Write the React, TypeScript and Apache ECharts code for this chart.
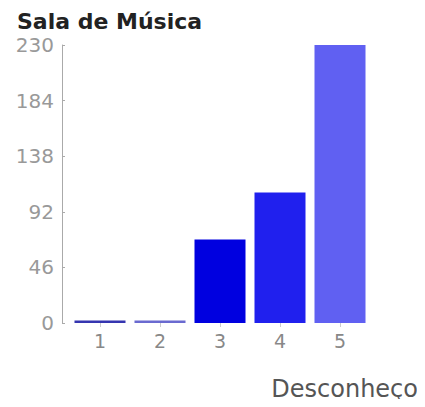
import React, { useEffect, useRef } from "react";
import * as echarts from "echarts";

const categories = ["1", "2", "3", "4", "5"];
const values = [2, 2, 69, 108, 230];
const barColors = ["#3535b0", "#6a6ad0", "#0000e0", "#2020ee", "#6060f2"];
const yTicks = [0, 46, 92, 138, 184, 230];

export default function App() {
  const ref = useRef<HTMLDivElement>(null);
  useEffect(() => {
    const chart = echarts.init(ref.current!, null, { renderer: "svg" });
    chart.setOption({
      animation: false,
      backgroundColor: "#ffffff",
      title: {
        text: "Sala de Música",
        left: 12,
        top: 5,
        textStyle: { fontFamily: "DejaVu Sans", fontWeight: "bold", fontSize: 22, color: "#222" },
      },
      graphic: [
        {
          type: "text",
          right: 7,
          top: 377,
          style: { text: "Desconheço", font: "24px 'DejaVu Sans'", fill: "#555" },
        },
      ],
      grid: { left: 70, right: 55, top: 45, bottom: 84 },
      xAxis: {
        type: "category",
        data: categories,
        axisLine: { show: false },
        axisTick: { show: true, alignWithLabel: true, length: 4, lineStyle: { color: "#ccc" } },
        axisLabel: { color: "#888", fontSize: 19, fontFamily: "DejaVu Sans", margin: 8 },
      },
      yAxis: {
        type: "value",
        min: 0,
        max: 230,
        interval: 46,
        offset: 8,
        axisLine: { show: true, lineStyle: { color: "#aaa" } },
        axisTick: { show: true, inside: true, length: 3, lineStyle: { color: "#aaa" } },
        splitLine: { show: false },
        axisLabel: {
          color: "#999",
          fontSize: 20,
          fontFamily: "DejaVu Sans",
          margin: 8,
          formatter: (v: number) => (yTicks.includes(v) ? String(v) : ""),
        },
      },
      series: [
        {
          type: "bar",
          data: values.map((v, i) => ({ value: v, itemStyle: { color: barColors[i] } })),
          barWidth: 51,
        },
      ],
    });
    return () => chart.dispose();
  }, []);
  return <div ref={ref} style={{ width: 425, height: 407, margin: -8 }} />;
}
